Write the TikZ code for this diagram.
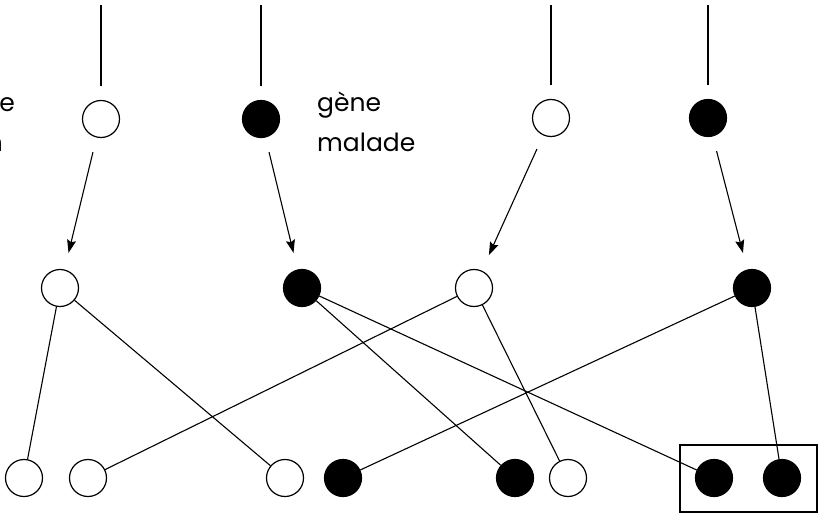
\documentclass[tikz,border=0pt]{standalone}
\usepackage{fontspec}
\setmainfont{Poppins}
\usetikzlibrary{arrows.meta}
\begin{document}
\begin{tikzpicture}[x=1pt,y=-1pt,
  every node/.style={inner sep=0pt},
  wb/.style={circle,draw,line width=1.2pt,minimum size=37pt,fill=white},
  bb/.style={circle,draw,line width=1.2pt,minimum size=37pt,fill=black},
  conn/.style={line width=1.1pt},
  arr/.style={line width=1.1pt,-{Stealth[length=13pt,width=9pt,inset=2pt]},shorten <=15pt,shorten >=17pt},
  lbl/.style={font=\fontsize{25}{30}\selectfont}
]
\useasboundingbox (0,0) rectangle (819,516);
% top row
\node[wb] (t1) at (101,119) {};
\node[bb] (t2) at (261,119) {};
\node[wb] (t3) at (551,118) {};
\node[bb] (t4) at (708,118) {};
\coordinate (v1) at (101,5);
\coordinate (v2) at (261,5);
\coordinate (v3) at (551,5);
\coordinate (v4) at (708,5);
\foreach \i in {1,2,3,4} \draw[conn,shorten >=14pt] (v\i) -- (t\i);
% middle row
\node[wb] (m1) at (60,288) {};
\node[bb] (m2) at (302,288) {};
\node[wb] (m3) at (474,288) {};
\node[bb] (m4) at (752,288) {};
\foreach \i in {1,2,3,4} \draw[arr] (t\i) -- (m\i);
% bottom row
\node[wb] (b1) at (24,478) {};
\node[wb] (b2) at (88,478) {};
\node[wb] (b3) at (285,478) {};
\node[bb] (b4) at (343,478) {};
\node[bb] (b5) at (515,478) {};
\node[wb] (b6) at (568,478) {};
\node[bb] (b7) at (714,478) {};
\node[bb] (b8) at (782,478) {};
\node[draw,line width=1.2pt,minimum width=137pt,minimum height=67pt] (box) at (748.5,478.5) {};
% links
\draw[conn] (m1) -- (b1);
\draw[conn] (m1) -- (b3);
\draw[conn] (m2) -- (b5);
\draw[conn] (m2) -- (b7);
\draw[conn] (m3) -- (b2);
\draw[conn] (m3) -- (b6);
\draw[conn] (m4) -- (b4);
\draw[conn] (m4) -- (b8);
% labels
\node[lbl,anchor=base east] (l1) at (15,112) {gène};
\node[lbl,anchor=base west] (l2) at ([yshift=-40pt]l1.base west) {sain};
\node[lbl,anchor=base west] (r1) at (317,112) {gène};
\node[lbl,anchor=base west] (r2) at (317,152) {malade};
\end{tikzpicture}
\end{document}
